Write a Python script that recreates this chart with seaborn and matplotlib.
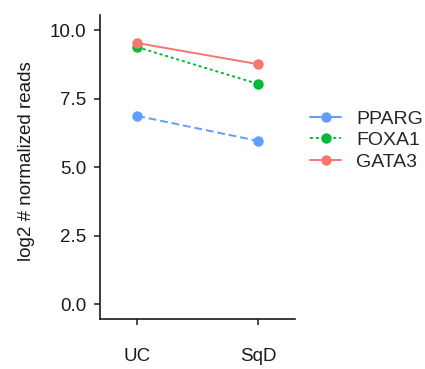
import numpy as np
import pandas as pd
import matplotlib
matplotlib.use("Agg")
import matplotlib.pyplot as plt
from matplotlib.lines import Line2D
import seaborn as sns

# ── data ──
conditions = ["UC", "SqD"]
genes      = ["PPARG", "FOXA1", "GATA3"]
pparg      = [6.87, 5.96]
foxa1      = [9.38, 8.04]
gata3      = [9.53, 8.76]

colors  = {"PPARG": "#619CFF", "FOXA1": "#00BA38", "GATA3": "#F8766D"}
dashes  = {"PPARG": (4, 2), "FOXA1": (1.5, 1.5), "GATA3": ""}

df = pd.DataFrame({
    "condition": conditions * 3,
    "x":         [0, 1] * 3,
    "gene":      ["PPARG"] * 2 + ["FOXA1"] * 2 + ["GATA3"] * 2,
    "value":     pparg + foxa1 + gata3,
})

sns.set_style("white")
plt.rcParams["font.family"] = ["Liberation Sans", "DejaVu Sans"]

fig = plt.figure(figsize=(4.25, 3.69), dpi=100)
ax = fig.add_axes([0.235, 0.135, 0.46, 0.824])

sns.lineplot(data=df, x="x", y="value", hue="gene", style="gene",
             hue_order=genes, style_order=genes, palette=colors,
             dashes=dashes, markers={g: "o" for g in genes},
             markersize=7.5, markeredgewidth=0, linewidth=1.4,
             legend=False, ax=ax)

ax.set_xlim(-0.31, 1.31)
ax.set_ylim(-0.55, 10.55)
ax.set_xticks([0, 1])
ax.set_xticklabels(conditions)
ax.set_yticks([0, 2.5, 5, 7.5, 10])
ax.set_yticklabels(["0.0", "2.5", "5.0", "7.5", "10.0"])
ax.set_xlabel("")
ax.set_ylabel("log2 # normalized reads", fontsize=13.5, color="#1a1a1a")
ax.yaxis.set_label_coords(-0.33, 0.52)
ax.tick_params(axis="both", which="both", direction="out", length=4.5,
               width=1.1, color="#1a1a1a", labelsize=13.5, labelcolor="#1a1a1a",
               left=True, bottom=True)
ax.tick_params(axis="x", pad=16)
ax.tick_params(axis="y", pad=5)

for side in ["top", "right"]:
    ax.spines[side].set_visible(False)
for side in ["left", "bottom"]:
    ax.spines[side].set_color("#1a1a1a")
    ax.spines[side].set_linewidth(1.2)

handles = [Line2D([0], [0], color=colors[g], marker="o", markersize=7.5,
                  markeredgewidth=0, linewidth=1.4,
                  linestyle=("-" if g != "FOXA1" else (0, (1.5, 1.5))))
           for g in genes]
fig.legend(handles, genes, loc="center left", bbox_to_anchor=(0.712, 0.62),
           frameon=False, fontsize=14, handlelength=1.6,
           handletextpad=0.75, labelspacing=0.2, borderaxespad=0)

plt.savefig("out.png", dpi=100)
plt.close()
